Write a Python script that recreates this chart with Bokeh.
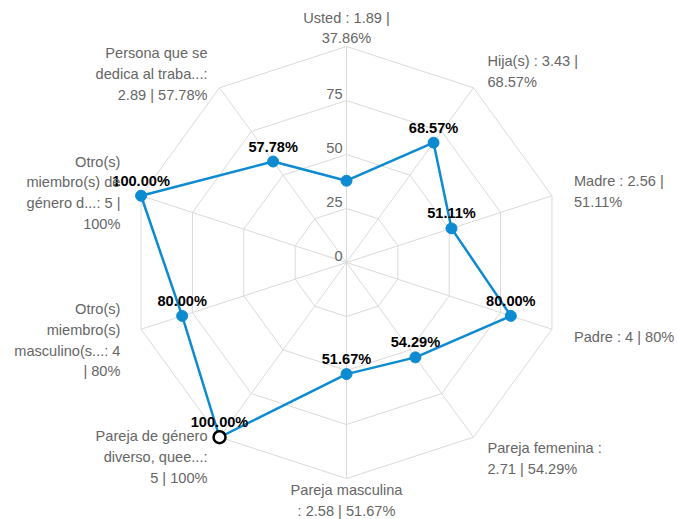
import math
from bokeh.plotting import figure
from bokeh.models import ColumnDataSource, Range1d
from bokeh.core.properties import value
from bokeh.embed import file_html
from bokeh.resources import INLINE

# ---- data ----
categories = ["Usted", "Hija(s)", "Madre", "Padre", "Pareja femenina",
              "Pareja masculina", "Pareja de género diverso",
              "Otro(s) miembro(s) masculino(s)", "Otro(s) miembro(s) de género diverso",
              "Persona que se dedica al trabajo"]
counts = [1.89, 3.43, 2.56, 4, 2.71, 2.58, 5, 4, 5, 2.89]
percents = [37.86, 68.57, 51.11, 80.00, 54.29, 51.67, 100.00, 80.00, 100.00, 57.78]
axis_labels = [
    "Usted : 1.89 |\n37.86%",
    "Hija(s) : 3.43 |\n68.57%",
    "Madre : 2.56 |\n51.11%",
    "Padre : 4 | 80%",
    "Pareja femenina :\n2.71 | 54.29%",
    "Pareja masculina\n: 2.58 | 51.67%",
    "Pareja de género\ndiverso, quee...:\n5 | 100%",
    "Otro(s)\nmiembro(s)\nmasculino(s...: 4\n| 80%",
    "Otro(s)\nmiembro(s) de\ngénero d...: 5 |\n100%",
    "Persona que se\ndedica al traba...:\n2.89 | 57.78%",
]
ring_values = [25, 50, 75, 100]
tick_values = [0, 25, 50, 75]
highlight_index = 6
hidden_data_labels = [0]  # label overlapping the tick labels is not shown

# ---- layout ----
PX = 2.16  # pixels per percent unit
W, H = 677, 519
cx, cy = 346, 262  # center in figure pixels
n = len(categories)
angles = [math.pi / 2 - i * 2 * math.pi / n for i in range(n)]

p = figure(width=W, height=H, output_backend="svg", toolbar_location=None,
           x_range=Range1d(-cx / PX, (W - cx) / PX),
           y_range=Range1d(-(H - cy) / PX, cy / PX),
           min_border=0)
p.axis.visible = False
p.grid.visible = False
p.outline_line_color = None
p.background_fill_color = "white"

grid_col = "#dadada"
# rings
for r in ring_values:
    xs = [r * math.cos(a) for a in angles] + [r * math.cos(angles[0])]
    ys = [r * math.sin(a) for a in angles] + [r * math.sin(angles[0])]
    p.line(xs, ys, line_color=grid_col, line_width=1)
# spokes
p.multi_line([[0, 100 * math.cos(a)] for a in angles],
             [[0, 100 * math.sin(a)] for a in angles],
             line_color=grid_col, line_width=1)

font = value("Liberation Sans")
fs = "14.6px"
# tick labels
p.text(x=[0] * len(tick_values), y=tick_values, text=[str(t) for t in tick_values],
       text_align="right", text_baseline="middle", x_offset=-4, y_offset=-7,
       text_font=font, text_font_size=fs, text_color="#666666")

# series
sx = [v * math.cos(a) for v, a in zip(percents, angles)]
sy = [v * math.sin(a) for v, a in zip(percents, angles)]
blue = "#0d8bd1"
p.line(sx + [sx[0]], sy + [sy[0]], line_color=blue, line_width=2.5)
nx = [x for i, x in enumerate(sx) if i != highlight_index]
ny = [y for i, y in enumerate(sy) if i != highlight_index]
p.scatter(nx, ny, size=11, fill_color=blue, line_color=blue)
p.scatter([sx[highlight_index]], [sy[highlight_index]], size=12,
          fill_color="white", line_color="black", line_width=2.5)

# data labels
keep = [i for i in range(n) if i not in hidden_data_labels]
p.text(x=[sx[i] for i in keep], y=[sy[i] for i in keep],
       text=[f"{percents[i]:.2f}%" for i in keep],
       text_align="center", text_baseline="middle", y_offset=-15,
       text_font=font, text_font_size=fs, text_font_style="bold",
       text_color="black")

# axis labels
offsets = [(0, -18.5), (14, -16), (22, -4), (22, 8), (14, 21),
           (0, 22), (-12, 20), (-20.6, 11), (-20.6, -3), (-12, -14)]
aligns = []
for a in angles:
    c = math.cos(a)
    aligns.append("left" if c > 0.1 else ("right" if c < -0.1 else "center"))
src = ColumnDataSource(dict(
    x=[100 * math.cos(a) for a in angles],
    y=[100 * math.sin(a) for a in angles],
    text=axis_labels, align=aligns,
    xo=[o[0] for o in offsets], yo=[o[1] for o in offsets]))
p.text(x="x", y="y", text="text", source=src, text_align="align",
       text_baseline="middle", x_offset="xo", y_offset="yo",
       text_font=font, text_font_size=fs, text_color="#666666",
       text_line_height=1.3)

open("out.html", "w").write(file_html(p, INLINE))
